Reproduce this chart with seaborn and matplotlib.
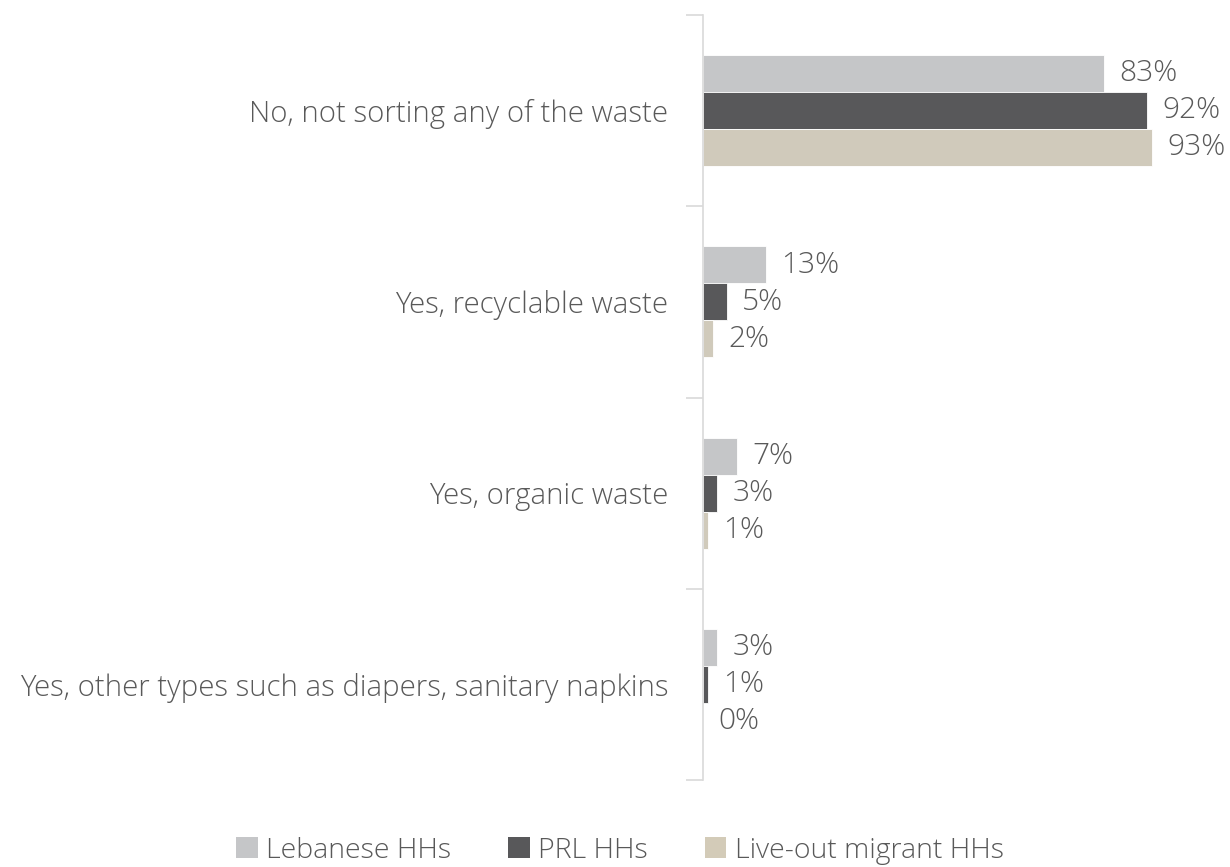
import matplotlib
matplotlib.use("Agg")
import matplotlib.pyplot as plt
import seaborn as sns
import pandas as pd
from matplotlib.patches import Patch

categories = ["No, not sorting any of the waste", "Yes, recyclable waste",
              "Yes, organic waste", "Yes, other types such as diapers, sanitary napkins"]
series = ["Lebanese HHs", "PRL HHs", "Live-out migrant HHs"]
lebanese = [83, 13, 7, 3]
prl = [92, 5, 3, 1]
migrant = [93, 2, 1, 0]
colors = ["#C5C6C8", "#58585A", "#D3CBB8"]

rows = []
for s, vals in zip(series, [lebanese, prl, migrant]):
    for c, v in zip(categories, vals):
        rows.append({"cat": c, "series": s, "val": v})
df = pd.DataFrame(rows)

sns.set_theme(style="white")
plt.rcParams['font.family'] = ['Open Sans', 'DejaVu Sans']
txt = "#595959"

fig = plt.figure(figsize=(12.3, 8.67), dpi=100)
ax = fig.add_axes([0.5715, 0.1003, 0.3925, 0.8824])
sns.barplot(data=df, y="cat", x="val", hue="series", palette=colors, orient="h",
            width=0.58, dodge=True, gap=0, ax=ax, legend=False, errorbar=None,
            edgecolor="white", linewidth=0.6)

for cont in ax.containers:
    ax.bar_label(cont, labels=[f"{int(v)}%" for v in cont.datavalues], padding=11,
                 fontsize=21.5, color=txt, fontweight="light")

ax.set_xlim(0, 100)
ax.set_ylim(3.5, -0.5)
ax.set_xlabel("")
ax.set_ylabel("")
ax.set_xticks([])
ax.set_yticks(range(len(categories)))
ax.set_yticklabels(categories, fontsize=21.2, color=txt, fontweight="light")
ax.tick_params(axis="y", which="major", length=0, pad=25)
ax.set_yticks([-0.5, 0.5, 1.5, 2.5, 3.5], minor=True)
ax.tick_params(axis="y", which="minor", length=12, color="#D9D9D9", width=1.2, left=True)
for sp in ["top", "right", "bottom"]:
    ax.spines[sp].set_visible(False)
ax.spines["left"].set_color("#D9D9D9")
ax.spines["left"].set_linewidth(1.2)

handles = [Patch(facecolor=c, edgecolor="none") for c in colors]
fig.legend(handles, series, loc="center", bbox_to_anchor=(0.504, 0.019), ncol=3,
           frameon=False, labelcolor=txt, handlelength=0.75,
           handleheight=0.75, handletextpad=0.3, columnspacing=2.0,
           prop={"size": 20.5, "weight": "light"})

fig.savefig("out.png", dpi=100)
